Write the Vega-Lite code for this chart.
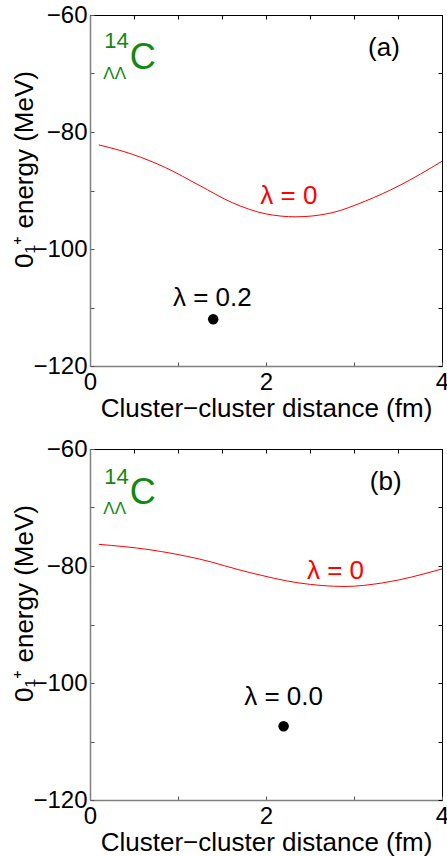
{
  "$schema": "https://vega.github.io/schema/vega-lite/v6.json",
  "padding": {"left": 10, "top": 2, "right": 0, "bottom": 0},
  "background": "white",
  "spacing": 14,
  "config": {
    "font": "Liberation Sans",
    "view": {"stroke": "black", "strokeWidth": 1},
    "axis": {
      "grid": false,
      "labelFont": "Liberation Sans",
      "titleFont": "Liberation Sans",
      "labelFontSize": 24,
      "titleFontSize": 26,
      "labelColor": "black",
      "titleColor": "black",
      "titleFontWeight": "normal",
      "tickSize": -4,
      "tickColor": "#555555",
      "domainColor": "#808080",
      "domainWidth": 1.5
    },
    "axisBottom": {"labelPadding": 8, "titleY": 50, "titleBaseline": "alphabetic"},
    "axisLeft": {"labelPadding": 7, "titleX": -58, "titleY": 154, "titleBaseline": "alphabetic"}
  },
  "vconcat": [
    {
      "width": 352,
      "height": 351,
      "resolve": {"axis": {"x": "independent", "y": "independent"}},
      "layer": [
        {
          "data": {"values": [
            {"x": 0.10, "y": -82.2}, {"x": 0.48, "y": -83.8}, {"x": 0.86, "y": -86.1},
            {"x": 1.24, "y": -89.1}, {"x": 1.62, "y": -92.1}, {"x": 2.0, "y": -94.0},
            {"x": 2.34, "y": -94.5}, {"x": 2.75, "y": -93.8}, {"x": 3.13, "y": -91.8},
            {"x": 3.51, "y": -89.2}, {"x": 4.0, "y": -85.0}
          ]},
          "mark": {"type": "line", "color": "#ff0000", "strokeWidth": 1, "interpolate": "monotone"},
          "encoding": {
            "x": {"field": "x", "type": "quantitative", "scale": {"domain": [0, 4], "nice": false},
              "axis": {"title": "Cluster−cluster distance (fm)", "values": [0, 0.5, 1, 1.5, 2, 2.5, 3, 3.5, 4], "format": "d",
                "labelExpr": "datum.value % 2 === 0 ? datum.label : ''", "labelFlush": false}},
            "y": {"field": "y", "type": "quantitative", "scale": {"domain": [-120, -60], "nice": false},
              "axis": {"title": "0₁⁺ energy (MeV)", "values": [-120, -110, -100, -90, -80, -70, -60], "format": "d",
                "labelExpr": "datum.value % 20 === 0 ? datum.label : ''", "labelFlush": false}}
          }
        },
        {
          "data": {"values": [{"x": 1.4, "y": -112.0}]},
          "mark": {"type": "point", "filled": true, "color": "black", "size": 110, "opacity": 1},
          "encoding": {
            "x": {"field": "x", "type": "quantitative",
              "axis": {"orient": "top", "labels": false, "title": null, "domain": false, "tickColor": "black", "values": [0, 0.5, 1, 1.5, 2, 2.5, 3, 3.5, 4]}},
            "y": {"field": "y", "type": "quantitative",
              "axis": {"orient": "right", "labels": false, "title": null, "domain": false, "tickColor": "black", "values": [-120, -110, -100, -90, -80, -70, -60]}}
          }
        },
        {
          "data": {"values": [
            {"x": 2.26, "y": -90.9, "label": "λ = 0", "c": "red"},
            {"x": 1.39, "y": -108.3, "label": "λ = 0.2", "c": "black"},
            {"x": 3.34, "y": -65.6, "label": "(a)", "c": "black"}
          ]},
          "mark": {"type": "text", "fontSize": 26, "align": "center", "baseline": "middle"},
          "encoding": {
            "x": {"field": "x", "type": "quantitative", "axis": null},
            "y": {"field": "y", "type": "quantitative", "axis": null},
            "text": {"field": "label"},
            "color": {"field": "c", "type": "nominal", "scale": null}
          }
        },
        {
          "data": {"values": [
            {"x": 0.30, "y": -64.4, "label": "14", "s": 22},
            {"x": 0.60, "y": -67.3, "label": "C", "s": 36},
            {"x": 0.28, "y": -70.1, "label": "ΛΛ", "s": 17}
          ]},
          "mark": {"type": "text", "align": "center", "baseline": "middle", "color": "#118811"},
          "encoding": {
            "x": {"field": "x", "type": "quantitative", "axis": null},
            "y": {"field": "y", "type": "quantitative", "axis": null},
            "text": {"field": "label"},
            "size": {"field": "s", "type": "quantitative", "scale": null}
          }
        }
      ]
    },
    {
      "width": 352,
      "height": 351,
      "resolve": {"axis": {"x": "independent", "y": "independent"}},
      "layer": [
        {
          "data": {"values": [
            {"x": 0.10, "y": -76.3}, {"x": 0.67, "y": -77.2}, {"x": 1.24, "y": -78.8},
            {"x": 1.81, "y": -81.1}, {"x": 2.375, "y": -82.9}, {"x": 2.9, "y": -83.5},
            {"x": 3.32, "y": -82.9}, {"x": 4.0, "y": -80.5}
          ]},
          "mark": {"type": "line", "color": "#ff0000", "strokeWidth": 1, "interpolate": "monotone"},
          "encoding": {
            "x": {"field": "x", "type": "quantitative", "scale": {"domain": [0, 4], "nice": false},
              "axis": {"title": "Cluster−cluster distance (fm)", "values": [0, 0.5, 1, 1.5, 2, 2.5, 3, 3.5, 4], "format": "d",
                "labelExpr": "datum.value % 2 === 0 ? datum.label : ''", "labelFlush": false}},
            "y": {"field": "y", "type": "quantitative", "scale": {"domain": [-120, -60], "nice": false},
              "axis": {"title": "0₁⁺ energy (MeV)", "values": [-120, -110, -100, -90, -80, -70, -60], "format": "d",
                "labelExpr": "datum.value % 20 === 0 ? datum.label : ''", "labelFlush": false}}
          }
        },
        {
          "data": {"values": [{"x": 2.2, "y": -107.4}]},
          "mark": {"type": "point", "filled": true, "color": "black", "size": 110, "opacity": 1},
          "encoding": {
            "x": {"field": "x", "type": "quantitative",
              "axis": {"orient": "top", "labels": false, "title": null, "domain": false, "tickColor": "black", "values": [0, 0.5, 1, 1.5, 2, 2.5, 3, 3.5, 4]}},
            "y": {"field": "y", "type": "quantitative",
              "axis": {"orient": "right", "labels": false, "title": null, "domain": false, "tickColor": "black", "values": [-120, -110, -100, -90, -80, -70, -60]}}
          }
        },
        {
          "data": {"values": [
            {"x": 2.79, "y": -80.8, "label": "λ = 0", "c": "red"},
            {"x": 2.2, "y": -102.4, "label": "λ = 0.0", "c": "black"},
            {"x": 3.36, "y": -65.7, "label": "(b)", "c": "black"}
          ]},
          "mark": {"type": "text", "fontSize": 26, "align": "center", "baseline": "middle"},
          "encoding": {
            "x": {"field": "x", "type": "quantitative", "axis": null},
            "y": {"field": "y", "type": "quantitative", "axis": null},
            "text": {"field": "label"},
            "color": {"field": "c", "type": "nominal", "scale": null}
          }
        },
        {
          "data": {"values": [
            {"x": 0.30, "y": -64.8, "label": "14", "s": 22},
            {"x": 0.60, "y": -67.5, "label": "C", "s": 36},
            {"x": 0.28, "y": -70.3, "label": "ΛΛ", "s": 17}
          ]},
          "mark": {"type": "text", "align": "center", "baseline": "middle", "color": "#118811"},
          "encoding": {
            "x": {"field": "x", "type": "quantitative", "axis": null},
            "y": {"field": "y", "type": "quantitative", "axis": null},
            "text": {"field": "label"},
            "size": {"field": "s", "type": "quantitative", "scale": null}
          }
        }
      ]
    }
  ]
}
